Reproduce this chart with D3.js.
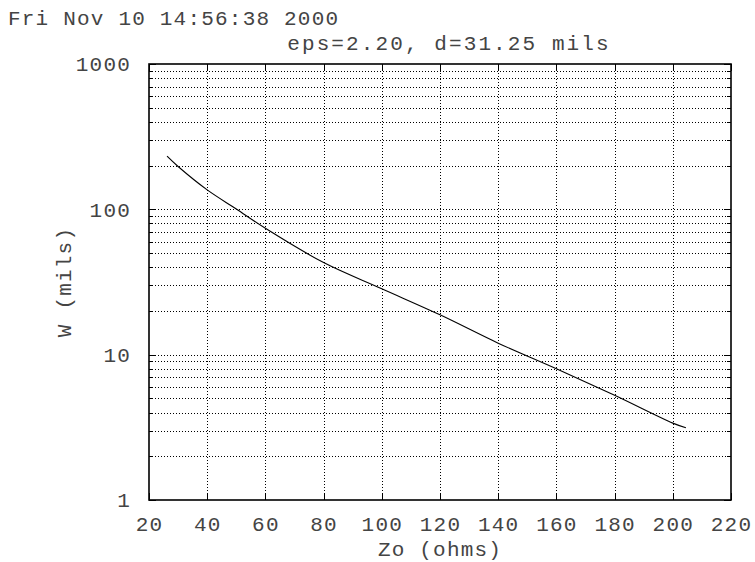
<!DOCTYPE html>
<html lang="en">

<head>
    <meta charset="UTF-8">
    <title>microstrip width</title>
    <style>
        body {
            margin: 0;
            background: #fff;
        }

        text {
            font-family: "Liberation Mono", "Courier New", monospace;
            font-size: 21px;
            letter-spacing: 1.2px;
            fill: #444;
        }

        .grid line {
            stroke: #000;
            stroke-dasharray: 1, 2;
            shape-rendering: crispEdges;
        }

        .ticks line {
            stroke: #000;
            shape-rendering: crispEdges;
        }
    </style>
</head>

<body>
    <svg width="755" height="562"></svg>
    <script src="https://d3js.org/d3.v7.min.js"></script>
    <script>
        // values
        let zo = [26.2, 30, 40, 50, 60, 80, 100, 120, 140, 160, 180, 200, 204.5];
        let wid = [232, 197, 136, 100.5, 74, 43, 28.4, 18.8, 12.0, 8.0, 5.25, 3.38, 3.14];

        let xTicks = [20, 40, 60, 80, 100, 120, 140, 160, 180, 200, 220];
        let yMajor = [1, 10, 100, 1000];
        let yMinor = [2, 3, 4, 5, 6, 7, 8, 9, 20, 30, 40, 50, 60, 70, 80, 90, 200, 300, 400, 500, 600, 700, 800, 900];

        let stamp = "Fri Nov 10 14:56:38 2000";
        let title = "eps=2.20, d=31.25 mils";
        let xLabel = "Zo (ohms)";
        let yLabel = "W (mils)";

        let svg = d3.select("svg"),
            margin = { top: 64, right: 24, bottom: 62, left: 149 },
            width = +svg.attr("width") - margin.left - margin.right,
            height = +svg.attr("height") - margin.top - margin.bottom,
            g = svg.append("g").attr("transform", `translate(${margin.left},${margin.top})`);

        let x = d3.scaleLinear().domain([20, 220]).range([0, width]);
        let y = d3.scaleLog().domain([1, 1000]).range([height, 0]);

        // dotted grid
        let grid = g.append("g").attr("class", "grid");
        grid.selectAll(".gx")
            .data(xTicks.slice(1, -1))
            .enter().append("line")
            .attr("x1", d => Math.round(x(d)) + 0.5)
            .attr("x2", d => Math.round(x(d)) + 0.5)
            .attr("y1", 0)
            .attr("y2", height);
        grid.selectAll(".gy")
            .data(yMajor.slice(1, -1).concat(yMinor))
            .enter().append("line")
            .attr("x1", 0)
            .attr("x2", width)
            .attr("y1", d => Math.round(y(d)) + 0.5)
            .attr("y2", d => Math.round(y(d)) + 0.5);

        // axes, ticks pointing inward
        let styleAxis = sel => {
            sel.attr("class", "ticks").attr("font-size", null).attr("font-family", null);
            sel.select(".domain").remove();
        };

        g.append("g")
            .attr("transform", `translate(0,${height})`)
            .call(d3.axisBottom(x).tickValues(xTicks).tickSize(-7).tickPadding(16).tickFormat(d3.format("d")))
            .call(styleAxis);

        g.append("g")
            .call(d3.axisTop(x).tickValues(xTicks).tickSize(-7).tickFormat(""))
            .call(styleAxis);

        g.append("g")
            .call(d3.axisLeft(y).tickValues(yMajor).tickSize(-7).tickPadding(18).tickFormat(d3.format("d")))
            .call(styleAxis);
        g.append("g")
            .call(d3.axisLeft(y).tickValues(yMinor).tickSize(-4).tickFormat(""))
            .call(styleAxis);

        g.append("g")
            .attr("transform", `translate(${width},0)`)
            .call(d3.axisRight(y).tickValues(yMajor).tickSize(-7).tickFormat(""))
            .call(styleAxis);
        g.append("g")
            .attr("transform", `translate(${width},0)`)
            .call(d3.axisRight(y).tickValues(yMinor).tickSize(-4).tickFormat(""))
            .call(styleAxis);

        // frame
        g.append("rect")
            .attr("x", 0)
            .attr("y", 0)
            .attr("width", width)
            .attr("height", height)
            .attr("fill", "none")
            .attr("stroke", "#000")
            .attr("stroke-width", 1.6);

        // the curve
        let line = d3.line()
            .x((d, i) => x(zo[i]))
            .y(d => y(d))
            .curve(d3.curveCatmullRom.alpha(0.5));

        g.append("path")
            .datum(wid)
            .attr("fill", "none")
            .attr("stroke", "#000")
            .attr("stroke-width", 1.1)
            .attr("d", line);

        // texts
        svg.append("text")
            .attr("x", 8)
            .attr("y", 25)
            .text(stamp);

        svg.append("text")
            .attr("x", 449)
            .attr("y", 50)
            .attr("text-anchor", "middle")
            .style("letter-spacing", "2.1px")
            .text(title);

        svg.append("text")
            .attr("x", margin.left + width / 2)
            .attr("y", 556)
            .attr("text-anchor", "middle")
            .text(xLabel);

        svg.append("text")
            .attr("transform", `translate(71,${margin.top + height / 2}) rotate(-90)`)
            .attr("text-anchor", "middle")
            .text(yLabel);
    </script>

</body>

</html>
